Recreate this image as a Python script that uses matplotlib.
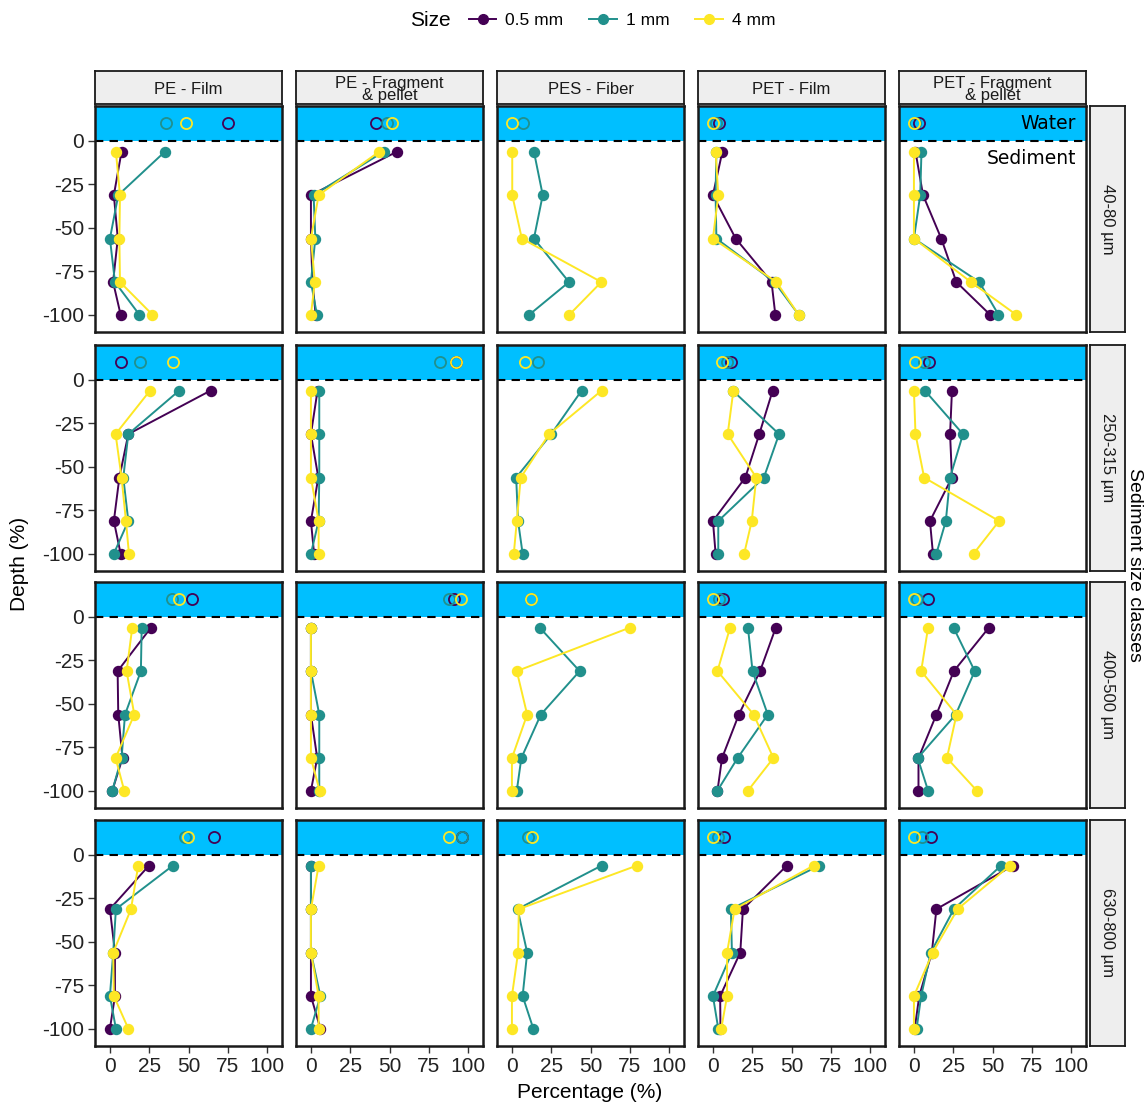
import matplotlib
matplotlib.use("Agg")
import matplotlib.pyplot as plt
from matplotlib.lines import Line2D

plt.rcParams['font.family'] = ['Liberation Sans', 'DejaVu Sans']
plt.rcParams['axes.unicode_minus'] = False

# facets
polymers = ["PE - Film", "PE - Fragment\n& pellet", "PES - Fiber", "PET - Film", "PET - Fragment\n& pellet"]
sed_classes = ["40-80 µm", "250-315 µm", "400-500 µm", "630-800 µm"]
sizes = ["0.5 mm", "1 mm", "4 mm"]
colors = ["#440154", "#21908C", "#FDE725"]

depths = [-6.25, -31.25, -56.25, -81.25, -100]
water_depth = 10

# sediment profiles (%), one list per polymer, per size class, per sediment class
sed_40_80_05 = [[7.4, 2.5, 5, 2, 6.8], [54.8, 0, 0, 1, 3], None, [6, 0, 14.5, 37.3, 39.7], [1, 5.8, 17.4, 27, 48.4]]
sed_40_80_1 = [[35, 5.3, 0, 3.2, 18.7], [46.3, 1.7, 2.8, 0, 3.8], [14, 19.6, 14, 36.3, 11.1], [2.2, 1.7, 2.2, 39.2, 54.5], [4.8, 4, 0, 41.6, 53.8]]
sed_40_80_4 = [[3.8, 6.4, 6, 6.4, 27], [43.5, 4.9, 0, 2.5, 0], [0.2, 0.2, 6.3, 56.9, 36.6], [1.7, 3.4, 0, 40.4, 54.5], [0, 0, 0, 36.3, 65]]

sed_250_315_05 = [[64, 11.7, 6, 2.5, 6.8], [4.2, 0, 4.7, 0, 2], None, [38, 29.5, 20.6, 0, 1.7], [24.2, 23, 24.2, 10.2, 12.1]]
sed_250_315_1 = [[44, 11.7, 8.5, 11.7, 2.5], [5.3, 5.3, 5.3, 4.9, 0], [44.3, 25, 2.7, 3.9, 6.8], [12.6, 42.1, 32.4, 3.4, 3.4], [7, 31.2, 23, 20.3, 14.3]]
sed_250_315_4 = [[25.5, 3.6, 7.4, 10.2, 12.1], [0, 0, 0, 4.9, 4.9], [57, 23.7, 5.6, 3.1, 1.2], [13, 9.4, 27.6, 24.7, 19.9], [0, 1, 6.5, 54.2, 38]]

sed_400_500_05 = [[26.1, 4.9, 5.3, 8, 1.5], [0, 0, 0, 4, 0], None, [40, 30, 16.5, 5.8, 2.9], [47.7, 25.4, 14.3, 2.9, 2.9]]
sed_400_500_1 = [[20.2, 19.7, 9.6, 7.4, 1.5], [0, 0, 5.3, 5.3, 5.3], [17.7, 43.1, 18.4, 6, 3.1], [22.3, 25.2, 34.9, 15.7, 2.9], [25.2, 38.7, 26.6, 2.4, 9]]
sed_400_500_4 = [[14.2, 10.6, 15.5, 3.6, 9.1], [0, 0, 0, 0, 5.5], [75, 3.1, 9.7, 0, 0], [10.9, 2.9, 25.9, 38.5, 22.3], [9, 4.6, 27.1, 21, 40]]

sed_630_800_05 = [[24.8, 0, 3.2, 3.2, 0], [0, 0, 0, 0, 6], None, [47, 19.1, 17.4, 4.6, 4.8], [63, 14.3, 11.4, 3.4, 0.5]]
sed_630_800_1 = [[40, 3.8, 2.1, 0, 3.8], [0, 0, 0, 6, 0], [57, 3.6, 9.7, 6.8, 13.6], [67.6, 11.4, 12.1, 0, 3.4], [55.4, 25.4, 10.7, 4.6, 1.7]]
sed_630_800_4 = [[18, 13.4, 2.1, 2.5, 11.7], [4.9, 0, 0, 4.9, 4.9], [79.4, 4.4, 3.9, 0, 0], [64, 13.8, 9, 9, 5.3], [61, 27.8, 11.9, 0, 0]]

# water column (%), rows = sediment classes, cols = polymers
water_05 = [[75, 41.6, None, 4, 3.4], [7, 92.4, None, 11.4, 9.7], [52, 91.3, None, 6.5, 9], [66.5, 96, None, 7, 10.9]]
water_1 = [[35.7, 48.4, 6.8, 1.7, 1], [19, 82.4, 16.5, 9, 6.5], [39.3, 88, 12.1, 4, 2], [47.8, 96.2, 10.4, 3, 5.3]]
water_4 = [[48.4, 51.4, 0, 0, 0], [40.3, 92, 8, 5.8, 0.5], [44.2, 95.5, 12.1, 0, 0], [49.9, 87.7, 12.8, 0, 0]]

sediment = [
    [sed_40_80_05, sed_40_80_1, sed_40_80_4],
    [sed_250_315_05, sed_250_315_1, sed_250_315_4],
    [sed_400_500_05, sed_400_500_1, sed_400_500_4],
    [sed_630_800_05, sed_630_800_1, sed_630_800_4],
]
water = [water_05, water_1, water_4]

W, H = 1146, 1106
fig = plt.figure(figsize=(W / 100, H / 100), dpi=100)


def box(x, y, w, h):
    return [x / W, 1 - (y + h) / H, w / W, h / H]


col_x = [95, 296, 497, 698, 899]
row_y = [106, 345, 582, 820]
pw, ph = 187, 226

for r in range(4):
    for c in range(5):
        ax = fig.add_axes(box(col_x[c], row_y[r], pw, ph))
        ax.set_xlim(-9.5, 109.5)
        ax.set_ylim(-110, 20)
        ax.axhspan(0, 20, color="#00BFFF", zorder=0, lw=0)
        ax.axhline(0, color="black", ls=(0, (4, 3)), lw=1.5, zorder=1)
        for s in range(3):
            prof = sediment[r][s][c]
            if prof is not None:
                ax.plot(prof, depths, color=colors[s], lw=1.4, marker="o", ms=7.2, zorder=3 + s)
            wv = water[s][r][c]
            if wv is not None:
                ax.plot([wv], [water_depth], ls="none", marker="o", ms=8, mfc="none",
                        mec=colors[s], mew=1.3, zorder=3 + s)
        for sp in ax.spines.values():
            sp.set_linewidth(1.8)
            sp.set_color("#1a1a1a")
        ax.set_xticks([0, 25, 50, 75, 100])
        ax.set_yticks([0, -25, -50, -75, -100])
        ax.tick_params(length=5, width=1, color="#333333", labelsize=15, labelcolor="#222222", pad=3)
        if c != 0:
            ax.tick_params(axis="y", left=False, labelleft=False)
        if r != 3:
            ax.tick_params(axis="x", bottom=False, labelbottom=False)
        if r == 0 and c == 4:
            ax.text(103, 10, "Water", ha="right", va="center", fontsize=13.5, family="DejaVu Sans")
            ax.text(103, -10, "Sediment", ha="right", va="center", fontsize=13.5, family="DejaVu Sans")

        # right strip
        if c == 4:
            sax = fig.add_axes(box(1090, row_y[r], 35, ph))
            sax.set_facecolor("#EEEEEE")
            sax.set_xticks([])
            sax.set_yticks([])
            for sp in sax.spines.values():
                sp.set_linewidth(1.3)
                sp.set_color("#1a1a1a")
            sax.text(0.5, 0.5, sed_classes[r], rotation=-90, ha="center", va="center",
                     fontsize=12, color="#1a1a1a", transform=sax.transAxes)

# top strips
for c in range(5):
    tax = fig.add_axes(box(col_x[c], 71, pw, 33))
    tax.set_facecolor("#EEEEEE")
    tax.set_xticks([])
    tax.set_yticks([])
    for sp in tax.spines.values():
        sp.set_linewidth(1.3)
        sp.set_color("#1a1a1a")
    tax.text(0.5, 0.45, polymers[c], ha="center", va="center", fontsize=12,
             color="#1a1a1a", linespacing=0.75, transform=tax.transAxes)

fig.text(20 / W, 1 - 564 / H, "Depth (%)", rotation=90, ha="center", va="center", fontsize=15)
fig.text(590 / W, 1 - 1093 / H, "Percentage (%)", ha="center", va="center", fontsize=15)
fig.text(1135 / W, 1 - 565 / H, "Sediment size classes", rotation=-90, ha="center", va="center", fontsize=14)

# legend
fig.text(430 / W, 1 - 20 / H, "Size", ha="center", va="center", fontsize=15)
handles = [Line2D([], [], color=colors[i], lw=1.4, marker="o", ms=7) for i in range(3)]
fig.legend(handles, sizes, ncol=3, loc="center", bbox_to_anchor=(622 / W, 1 - 20 / H),
           frameon=False, fontsize=12.5, handlelength=1.6, handletextpad=0.5, columnspacing=1.5)

fig.savefig("out.png", dpi=100)
